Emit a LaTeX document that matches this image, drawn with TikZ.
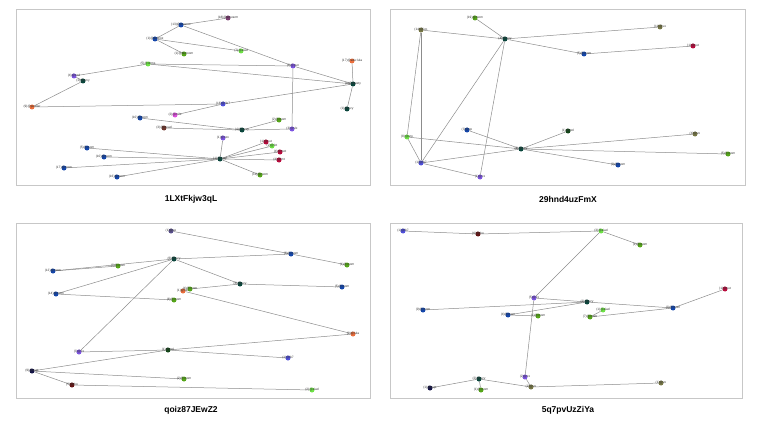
\documentclass[tikz,border=0pt]{standalone}
\usepackage{fontspec}
\setmainfont{Liberation Sans}
\usetikzlibrary{backgrounds}
\definecolor{nblue}{RGB}{20,70,170}
\definecolor{nteal}{RGB}{10,70,60}
\definecolor{ngreen}{RGB}{85,165,25}
\definecolor{nlgreen}{RGB}{110,225,70}
\definecolor{npurple}{RGB}{125,85,225}
\definecolor{nviolet}{RGB}{80,80,220}
\definecolor{ncrimson}{RGB}{185,10,60}
\definecolor{norange}{RGB}{235,110,60}
\definecolor{nmagenta}{RGB}{220,80,220}
\definecolor{nbrown}{RGB}{110,55,45}
\definecolor{nolive}{RGB}{120,120,70}
\definecolor{nplum}{RGB}{120,60,110}
\definecolor{nnavy}{RGB}{20,20,70}
\definecolor{ndkgreen}{RGB}{20,70,25}
\definecolor{ndkred}{RGB}{100,20,20}
\definecolor{nslate}{RGB}{90,80,140}
\tikzstyle{usr} = [circle, inner sep=0pt, minimum size=5pt, draw=none]
\tikzstyle{tag} = [text=black!80, font=\fontsize{3.2}{3.6}\selectfont, inner sep=0pt]
\tikzstyle{link} = [draw=black!45, line width=0.5pt]
\tikzstyle{panel} = [draw=black!22, line width=1pt]
\tikzstyle{title} = [font=\fontsize{8.5}{10}\bfseries\selectfont]

\begin{document}
\begin{tikzpicture}[x=1pt, y=-1pt]
    \useasboundingbox (0,0) rectangle (761,428);

    % frames
    \draw [panel] (16,10) rectangle (370,185);
    \draw [panel] (390,10) rectangle (745,185);
    \draw [panel] (16,223) rectangle (370,398);
    \draw [panel] (390,223) rectangle (742,398);

    \node (t1) [title] at (191,199) {1LXtFkjw3qL};
    \node (t2) [title] at (568,199) {29hnd4uzFmX};
    \node (t3) [title] at (191,410) {qoiz87JEwZ2};
    \node (t4) [title] at (568,410) {5q7pvUzZiYa};

    % graph 1
    \node (a1) [usr, fill=nblue, label={[tag]center:(13)@meerox}] at (181,25) {};
    \node (a2) [usr, fill=nplum, label={[tag]center:(18)@amvarm}] at (228,18) {};
    \node (a3) [usr, fill=nblue, label={[tag]center:(1)@delicoz}] at (155,39) {};
    \node (a4) [usr, fill=ngreen, label={[tag]center:(1)@bluroom}] at (184,54) {};
    \node (a5) [usr, fill=nlgreen, label={[tag]center:(7)@alad}] at (241,51) {};
    \node (a6) [usr, fill=nlgreen, label={[tag]center:(5)@oltms}] at (148,64) {};
    \node (a7) [usr, fill=npurple, label={[tag]center:(4)@xnd}] at (74,76) {};
    \node (a8) [usr, fill=nteal, label={[tag]center:(1)@tony}] at (83,81) {};
    \node (a9) [usr, fill=npurple, label={[tag]center:(3)@gun}] at (293,66) {};
    \node (a10) [usr, fill=norange, label={[tag]center:(17)@ede:lula}] at (352,61) {};
    \node (a11) [usr, fill=nteal, label={[tag]center:(1)@tbeety}] at (353,84) {};
    \node (a12) [usr, fill=norange, label={[tag]center:(9)@puelier}] at (32,107) {};
    \node (a13) [usr, fill=nviolet, label={[tag]center:(16)@l:b7}] at (223,104) {};
    \node (a14) [usr, fill=nmagenta, label={[tag]center:(2)@mils}] at (175,115) {};
    \node (a15) [usr, fill=nblue, label={[tag]center:(10)@room}] at (140,118) {};
    \node (a16) [usr, fill=nbrown, label={[tag]center:(3)@rzoad}] at (164,128) {};
    \node (a17) [usr, fill=nteal, label={[tag]center:(1)@lovy}] at (347,109) {};
    \node (a18) [usr, fill=ngreen, label={[tag]center:(2)@room}] at (279,120) {};
    \node (a19) [usr, fill=nteal, label={[tag]center:(4)@hevy}] at (242,130) {};
    \node (a20) [usr, fill=npurple, label={[tag]center:(3)@vlx}] at (292,129) {};
    \node (a21) [usr, fill=npurple, label={[tag]center:(1)@oxx}] at (223,138) {};
    \node (a22) [usr, fill=ncrimson, label={[tag]center:(1)@nut}] at (266,142) {};
    \node (a23) [usr, fill=nlgreen, label={[tag]center:(2)@lot}] at (272,146) {};
    \node (a24) [usr, fill=ncrimson, label={[tag]center:(4)@mot}] at (280,152) {};
    \node (a25) [usr, fill=ncrimson, label={[tag]center:(4)@lmt}] at (279,160) {};
    \node (a26) [usr, fill=nteal, label={[tag]center:(1)@lowy}] at (220,159) {};
    \node (a27) [usr, fill=nblue, label={[tag]center:(5)@room}] at (87,148) {};
    \node (a28) [usr, fill=nblue, label={[tag]center:(10)@room}] at (104,157) {};
    \node (a29) [usr, fill=nblue, label={[tag]center:(17)@room}] at (64,168) {};
    \node (a30) [usr, fill=nblue, label={[tag]center:(16)@room}] at (117,177) {};
    \node (a31) [usr, fill=ngreen, label={[tag]center:(11)@room}] at (260,175) {};

    % graph 2
    \node (b1) [usr, fill=ngreen, label={[tag]center:(19)@room}] at (475,18) {};
    \node (b2) [usr, fill=nolive, label={[tag]center:(14)@ivo}] at (421,30) {};
    \node (b3) [usr, fill=nteal, label={[tag]center:(4)@tevy}] at (505,39) {};
    \node (b4) [usr, fill=nolive, label={[tag]center:(11)@vo}] at (660,27) {};
    \node (b5) [usr, fill=ncrimson, label={[tag]center:(1)@nut}] at (693,46) {};
    \node (b6) [usr, fill=nblue, label={[tag]center:(5)@room}] at (584,54) {};
    \node (b7) [usr, fill=nlgreen, label={[tag]center:(8)@aro}] at (407,137) {};
    \node (b8) [usr, fill=nblue, label={[tag]center:(3)@cp}] at (467,130) {};
    \node (b9) [usr, fill=ndkgreen, label={[tag]center:(1)@mol}] at (568,131) {};
    \node (b10) [usr, fill=nteal, label={[tag]center:(2)@levy}] at (521,149) {};
    \node (b11) [usr, fill=nviolet, label={[tag]center:(1)@lb7}] at (421,163) {};
    \node (b12) [usr, fill=npurple, label={[tag]center:(1)@cx}] at (480,177) {};
    \node (b13) [usr, fill=nolive, label={[tag]center:(4)@vo}] at (695,134) {};
    \node (b14) [usr, fill=ngreen, label={[tag]center:(5)@room}] at (728,154) {};
    \node (b15) [usr, fill=nblue, label={[tag]center:(9)@room}] at (618,165) {};

    % graph 3
    \node (c1) [usr, fill=nslate, label={[tag]center:(1)@ax}] at (171,231) {};
    \node (c2) [usr, fill=nteal, label={[tag]center:(6)@levy}] at (174,259) {};
    \node (c3) [usr, fill=nblue, label={[tag]center:(12)@room}] at (53,271) {};
    \node (c4) [usr, fill=ngreen, label={[tag]center:(3)@room}] at (118,266) {};
    \node (c5) [usr, fill=nblue, label={[tag]center:(14)@room}] at (56,294) {};
    \node (c6) [usr, fill=ngreen, label={[tag]center:(8)@room}] at (174,300) {};
    \node (c7) [usr, fill=norange, label={[tag]center:(1)@lula}] at (183,291) {};
    \node (c8) [usr, fill=ngreen, label={[tag]center:(4)@room}] at (190,289) {};
    \node (c9) [usr, fill=nblue, label={[tag]center:(8)@room}] at (291,254) {};
    \node (c10) [usr, fill=ngreen, label={[tag]center:(1)@room}] at (347,265) {};
    \node (c11) [usr, fill=nteal, label={[tag]center:(3)@levy}] at (240,284) {};
    \node (c12) [usr, fill=nblue, label={[tag]center:(5)@room}] at (342,287) {};
    \node (c13) [usr, fill=npurple, label={[tag]center:(3)@xx}] at (79,352) {};
    \node (c14) [usr, fill=ndkgreen, label={[tag]center:(1)@mol}] at (168,350) {};
    \node (c15) [usr, fill=nnavy, label={[tag]center:(9)@aspt}] at (32,371) {};
    \node (c16) [usr, fill=ndkred, label={[tag]center:(5)@tho}] at (72,385) {};
    \node (c17) [usr, fill=ngreen, label={[tag]center:(2)@room}] at (184,379) {};
    \node (c18) [usr, fill=norange, label={[tag]center:(2)@lula}] at (353,334) {};
    \node (c19) [usr, fill=nviolet, label={[tag]center:(1)@lb7}] at (288,358) {};
    \node (c20) [usr, fill=nlgreen, label={[tag]center:(2)@alad}] at (312,390) {};

    % graph 4
    \node (d1) [usr, fill=nviolet, label={[tag]center:(1)@lb7}] at (403,231) {};
    \node (d2) [usr, fill=ndkred, label={[tag]center:(6)@tho}] at (478,234) {};
    \node (d3) [usr, fill=nlgreen, label={[tag]center:(3)@alad}] at (601,231) {};
    \node (d4) [usr, fill=ngreen, label={[tag]center:(1)@room}] at (640,245) {};
    \node (d5) [usr, fill=npurple, label={[tag]center:(5)@xx}] at (534,298) {};
    \node (d6) [usr, fill=nteal, label={[tag]center:(2)@levy}] at (587,302) {};
    \node (d7) [usr, fill=nblue, label={[tag]center:(9)@room}] at (423,310) {};
    \node (d8) [usr, fill=nblue, label={[tag]center:(4)@room}] at (508,315) {};
    \node (d9) [usr, fill=ngreen, label={[tag]center:(1)@room}] at (538,316) {};
    \node (d10) [usr, fill=nlgreen, label={[tag]center:(1)@alad}] at (603,310) {};
    \node (d11) [usr, fill=ngreen, label={[tag]center:(7)@room}] at (590,317) {};
    \node (d12) [usr, fill=nblue, label={[tag]center:(3)@room}] at (673,308) {};
    \node (d13) [usr, fill=ncrimson, label={[tag]center:(1)@nut}] at (725,289) {};
    \node (d14) [usr, fill=npurple, label={[tag]center:(2)@xx}] at (525,377) {};
    \node (d15) [usr, fill=nteal, label={[tag]center:(2)@levy}] at (479,379) {};
    \node (d16) [usr, fill=ngreen, label={[tag]center:(1)@room}] at (481,390) {};
    \node (d17) [usr, fill=nnavy, label={[tag]center:(1)@aspt}] at (430,388) {};
    \node (d18) [usr, fill=nolive, label={[tag]center:(3)@vo}] at (531,387) {};
    \node (d19) [usr, fill=nolive, label={[tag]center:(1)@vo}] at (661,383) {};

    \begin{scope}[on background layer]
        \foreach \u/\v in {a1/a2, a1/a3, a3/a4, a3/a5, a1/a9, a9/a11, a6/a9, a6/a11,
                           a7/a6, a7/a8, a8/a12, a12/a13, a13/a11, a14/a13, a10/a11,
                           a11/a17, a15/a19, a16/a19, a19/a18, a19/a20, a20/a9, a21/a26,
                           a26/a27, a26/a28, a26/a29, a26/a30, a26/a22, a26/a23,
                           a26/a24, a26/a25, a26/a31}
            \draw [link] (\u) -- (\v);

        \foreach \u/\v in {b2/b3, b1/b3, b3/b4, b3/b6, b6/b5, b2/b11, b2/b7, b3/b11,
                           b3/b12, b7/b11, b7/b10, b8/b10, b11/b10, b11/b12, b10/b9,
                           b10/b13, b10/b14, b10/b15}
            \draw [link] (\u) -- (\v);

        \foreach \u/\v in {c1/c9, c9/c10, c3/c4, c3/c2, c5/c2, c5/c6, c2/c9, c2/c11,
                           c11/c12, c8/c11, c7/c18, c2/c13, c13/c14, c15/c14, c14/c18,
                           c14/c19, c15/c17, c15/c16, c16/c20}
            \draw [link] (\u) -- (\v);

        \foreach \u/\v in {d1/d2, d2/d3, d3/d4, d3/d5, d5/d6, d6/d12, d5/d14, d7/d6,
                           d8/d6, d8/d9, d10/d11, d11/d12, d12/d13, d17/d15, d15/d16,
                           d15/d18, d18/d19, d14/d18}
            \draw [link] (\u) -- (\v);
    \end{scope}
\end{tikzpicture}
\end{document}
